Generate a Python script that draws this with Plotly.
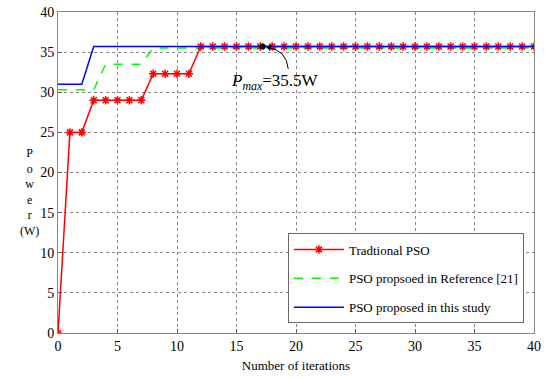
import plotly.graph_objects as go

# Data
iters = list(range(0, 41))
trad_pso = [0, 25, 25, 29, 29, 29, 29, 29, 32.3, 32.3, 32.3, 32.3] + [35.7] * 29
ref_x = [0, 3, 4, 7, 8, 40]
ref_pso = [30.3, 30.3, 33.5, 33.5, 35.5, 35.5]
study_x = [0, 2, 3, 40]
study_pso = [31, 31, 35.7, 35.7]
pmax_x, pmax_y = 17.2, 35.7
ylabel_chars = ["P", "o", "w", "e", "r", "(W)"]

FONT = "Liberation Serif"

fig = go.Figure()
fig.add_trace(go.Scatter(x=ref_x, y=ref_pso, mode="lines", name="PSO propsoed in Reference [21]",
                         line=dict(color="#00ff00", width=1.5, dash="dash"),
                         legendrank=2, legendgroup="b"))
fig.add_trace(go.Scatter(x=iters, y=trad_pso, mode="lines+markers", name="Tradtional PSO",
                         line=dict(color="#ff0000", width=1.5),
                         marker=dict(symbol="asterisk", size=7, color="#ff0000",
                                     line=dict(color="#ff0000", width=1.5)),
                         legendrank=1, legendgroup="a"))
fig.add_trace(go.Scatter(x=study_x, y=study_pso, mode="lines", name="PSO proposed in this study",
                         line=dict(color="#0000ff", width=1.5),
                         legendrank=3, legendgroup="c"))
fig.add_trace(go.Scatter(x=[pmax_x], y=[pmax_y], mode="markers", showlegend=False,
                         marker=dict(color="black", size=6)))

# curved arrow
fig.add_shape(type="path", path="M 19.35,32.9 Q 19.2,35.3 17.6,35.55",
              line=dict(color="black", width=1), xref="x", yref="y")
fig.add_trace(go.Scatter(x=[pmax_x + 0.55], y=[pmax_y - 0.12], mode="markers", showlegend=False,
                         hoverinfo="skip",
                         marker=dict(symbol="triangle-left", size=6, color="black", angle=10)))
fig.add_annotation(x=18.2, y=31.3, text="<i>P</i><sub><i>max</i></sub>=35.5W", showarrow=False,
                   font=dict(family=FONT, size=17, color="black"))

# y axis title (stacked letters)
fig.add_annotation(xref="paper", yref="paper", x=-0.084, y=0.44,
                   text="<br>".join(ylabel_chars), showarrow=False, align="center",
                   font=dict(family=FONT, size=12, color="black"))

axis_common = dict(showgrid=True, gridcolor="#888888", griddash="dot", gridwidth=1,
                   showline=True, linecolor="#888888", linewidth=1, mirror=True,
                   ticks="inside", ticklen=4, tickcolor="#555555", zeroline=False,
                   automargin=False,
                   tickfont=dict(family=FONT, size=14, color="black"))

fig.update_xaxes(range=[0, 40], dtick=5, title=dict(text="Number of iterations",
                 font=dict(family=FONT, size=13, color="black"), standoff=8), **axis_common)
fig.update_yaxes(range=[0, 40], dtick=5, **axis_common)

fig.update_layout(
    width=550, height=378,
    margin=dict(l=58, r=16, t=12, b=45, autoexpand=False),
    paper_bgcolor="white", plot_bgcolor="white",
    font=dict(family=FONT, color="black"),
    legend=dict(x=0.483, y=0.31, xanchor="left", yanchor="top",
                bgcolor="white", bordercolor="#666666", borderwidth=1,
                font=dict(family=FONT, size=13, color="black"),
                itemwidth=50,
                tracegroupgap=9, traceorder="grouped"),
)

# remove the default 8px page margin so the figure sits at the window's corner
fig.write_html("out.html", config={"displayModeBar": False},
               post_script="document.body.style.margin='0px';")
